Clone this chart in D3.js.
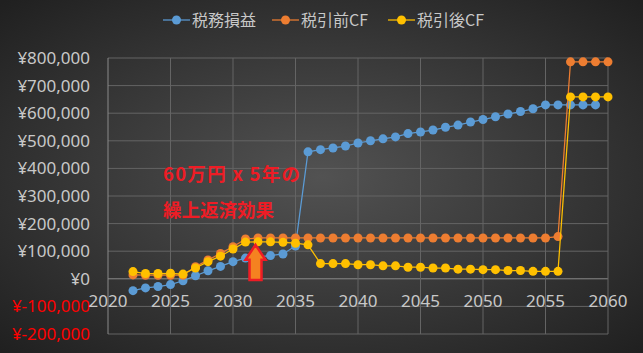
<!DOCTYPE html>
<html>
<head>
<meta charset="utf-8">
<script src="https://cdn.jsdelivr.net/npm/d3@7"></script>
<style>
  html, body { margin: 0; padding: 0; background: #262626; }
  svg { display: block; }
</style>
</head>
<body>
<div id="chart"></div>
<script>
// series values (yen)
const years = d3.range(2022, 2061);
const zeimuSoneki = [-43000, -33000, -28000, -21000, -7000, 11000, 29000, 45000, 62000, 75000,
  79000, 84000, 90000, 119000, 460000, 468000, 474000, 481000, 492000, 500000,
  507000, 514000, 526000, 532000, 539000, 549000, 557000, 568000, 577000, 587000,
  597000, 606000, 616000, 630000, 630000, 630000, 630000, 630000];
const zeibikiMaeCF = [14000, 13000, 13000, 13000, 13000, 44000, 68000, 92000, 116000, 144000,
  148000, 148000, 148000, 148000, 148000, 148000, 148000, 148000, 148000, 148000,
  148000, 148000, 148000, 148000, 148000, 148000, 148000, 148000, 148000, 148000,
  148000, 148000, 148000, 148000, 153000, 786000, 786000, 786000, 786000];
const zeibikiGoCF = [26000, 19000, 19000, 20000, 17000, 39000, 62000, 82000, 108000, 133000,
  134000, 134000, 132000, 129000, 123000, 55000, 55000, 55000, 51000, 51000,
  47000, 47000, 42000, 42000, 39000, 39000, 35000, 35000, 33000, 33000,
  30000, 30000, 27000, 27000, 27000, 659000, 659000, 659000, 659000];
const seriesNames = ["税務損益", "税引前CF", "税引後CF"];
const seriesColors = ["#5b9bd5", "#ed7d31", "#ffc000"];
const yTicks = d3.range(-200000, 800001, 100000);
const xTicks = d3.range(2020, 2061, 5);

const width = 643, height = 353;
const margin = { top: 58, right: 35, bottom: 19, left: 108 };

const svg = d3.select("#chart").append("svg")
  .attr("width", width)
  .attr("height", height);

// dark radial background
const grad = svg.append("defs").append("radialGradient")
  .attr("id", "bg").attr("cx", "50%").attr("cy", "50%").attr("r", "70%");
grad.append("stop").attr("offset", "0%").attr("stop-color", "#525252");
grad.append("stop").attr("offset", "100%").attr("stop-color", "#202020");
svg.append("rect").attr("width", width).attr("height", height).attr("fill", "url(#bg)");

const x = d3.scaleLinear().domain([2020, 2060]).range([margin.left, width - margin.right]);
const y = d3.scaleLinear().domain([-200000, 800000]).range([height - margin.bottom, margin.top]);

// gridlines
svg.append("g").selectAll("line").data(yTicks).join("line")
  .attr("x1", x(2020)).attr("x2", x(2060))
  .attr("y1", d => y(d)).attr("y2", d => y(d))
  .attr("stroke", d => d === 0 ? "#8a8a8a" : "#646464")
  .attr("stroke-width", 1);
svg.append("g").selectAll("line").data(xTicks).join("line")
  .attr("x1", d => x(d)).attr("x2", d => x(d))
  .attr("y1", y(800000)).attr("y2", y(-200000))
  .attr("stroke", d => d === 2020 ? "#8a8a8a" : "#646464")
  .attr("stroke-width", 1);

// y labels (Excel style: ¥-100,000)
const fmt = d => "¥" + (d < 0 ? "-" : "") + d3.format(",")(Math.abs(d));
svg.append("g").selectAll("text").data(yTicks).join("text")
  .attr("x", 90).attr("y", d => y(d)).attr("dy", "0.35em")
  .attr("text-anchor", "end")
  .attr("font-family", "'Noto Sans', sans-serif").attr("font-size", 17)
  .attr("fill", d => d < 0 ? "#ff0000" : "#c8c8c8")
  .text(fmt);

// x labels next to the zero axis
svg.append("g").selectAll("text").data(xTicks).join("text")
  .attr("x", d => x(d)).attr("y", y(0) + 28)
  .attr("text-anchor", "middle")
  .attr("font-family", "'Noto Sans', sans-serif").attr("font-size", 17)
  .attr("fill", "#c8c8c8")
  .text(d => d);

// series
const allSeries = [zeimuSoneki, zeibikiMaeCF, zeibikiGoCF];
const line = d3.line().x(d => x(d[0])).y(d => y(d[1]));
allSeries.forEach((vals, i) => {
  const pts = vals.map((v, j) => [years[j], v]);
  const g = svg.append("g");
  g.append("path").datum(pts).attr("d", line)
    .attr("fill", "none").attr("stroke", seriesColors[i]).attr("stroke-width", 1.25);
  g.selectAll("circle").data(pts).join("circle")
    .attr("cx", d => x(d[0])).attr("cy", d => y(d[1])).attr("r", 4.5)
    .attr("fill", seriesColors[i]);
});

// legend
const legendX = [163, 272, 388];
const lg = svg.append("g");
seriesNames.forEach((name, i) => {
  const lx = legendX[i];
  lg.append("line").attr("x1", lx).attr("x2", lx + 27).attr("y1", 20).attr("y2", 20)
    .attr("stroke", seriesColors[i]).attr("stroke-width", 1.25);
  lg.append("circle").attr("cx", lx + 13.5).attr("cy", 20).attr("r", 4.5).attr("fill", seriesColors[i]);
  lg.append("text").attr("x", lx + 29).attr("y", 20).attr("dy", "0.35em")
    .attr("font-family", "'Noto Sans CJK JP', sans-serif").attr("font-size", 16)
    .attr("fill", "#c8c8c8").text(name);
});

// annotation
const note = svg.append("g")
  .attr("font-family", "'Noto Sans CJK JP', sans-serif").attr("font-weight", "bold")
  .attr("font-size", 18.5).attr("fill", "#ee1c25");
note.append("text").attr("x", 163).attr("y", 175).attr("dy", "0.35em")
  .attr("textLength", 137).attr("lengthAdjust", "spacing").text("60万円 x 5年の");
note.append("text").attr("x", 163).attr("y", 211).attr("dy", "0.35em").text("繰上返済効果");

// arrow
const ax = x(2031.8), aTop = y(123000), aBot = y(-4000);
const headH = 15, headW = 10, shaftW = 6;
svg.append("path")
  .attr("d", `M${ax},${aTop} L${ax + headW},${aTop + headH} L${ax + shaftW},${aTop + headH}
    L${ax + shaftW},${aBot} L${ax - shaftW},${aBot} L${ax - shaftW},${aTop + headH}
    L${ax - headW},${aTop + headH} Z`)
  .attr("fill", "#f58220").attr("stroke", "#ee1c25").attr("stroke-width", 2.5)
  .attr("stroke-linejoin", "miter");
</script>
</body>
</html>
